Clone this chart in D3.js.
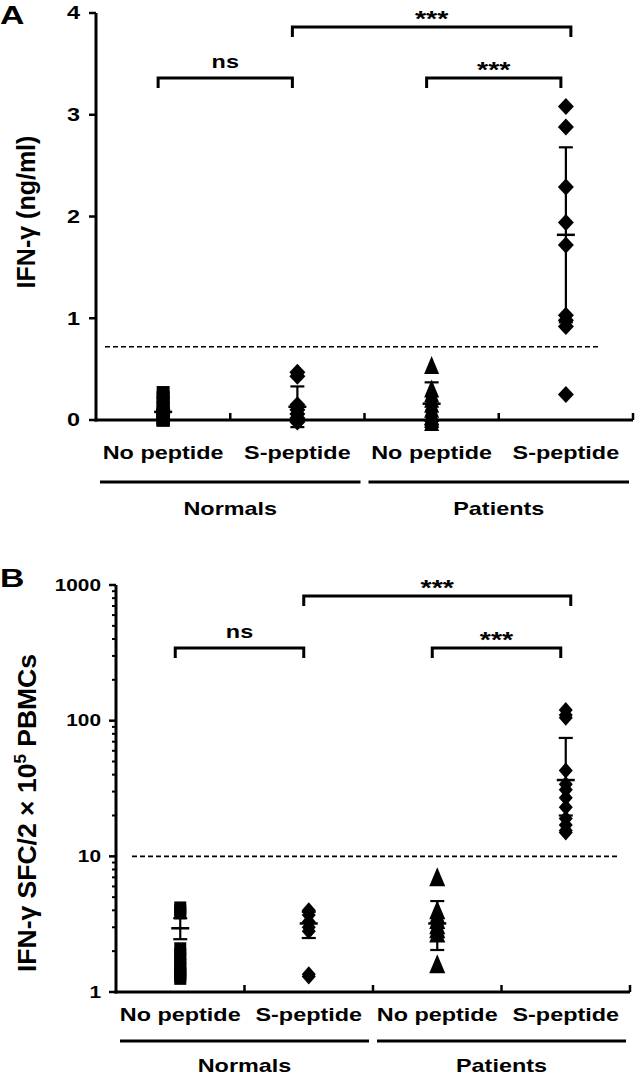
<!DOCTYPE html>
<html><head><meta charset="utf-8">
<script src="https://cdn.jsdelivr.net/npm/d3@7"></script>
<style>body{margin:0;background:#fff} svg{display:block}</style>
</head><body><svg id="chart" width="635" height="1078"></svg>
<script>
// ---------- data ----------
const categories = ["No peptide", "S-peptide", "No peptide", "S-peptide"];
const groupNames = ["Normals", "Patients"];
const markerShapes = ["square", "diamond", "triangle", "diamond"];

// Panel A : IFN-γ (ng/ml)
const ifnNormalsNoPeptide = [0.27, 0.22, 0.17, 0.12, 0.08, 0.05, 0.02, 0.0, 0.0, 0.0];
const ifnNormalsSPeptide = [0.47, 0.43, 0.15, 0.10, 0.06, 0.02, 0.0, -0.02];
const ifnPatientsNoPeptide = [0.53, 0.30, 0.25, 0.20, 0.15, 0.10, 0.06, 0.03, 0.0, -0.03];
const ifnPatientsSPeptide = [3.08, 2.88, 2.29, 1.94, 1.72, 1.03, 0.98, 0.92, 0.25];
const ifnMean = [0.08, 0.13, 0.16, 1.82];
const ifnErrLow = [0.06, -0.07, -0.05, 0.96];
const ifnErrHigh = [0.10, 0.33, 0.37, 2.68];
const ifnTicks = [0, 1, 2, 3, 4];
const ifnCutoff = 0.72;
const ifnComparisons = [
  {a: 0, b: 1, text: "ns", level: 1},
  {a: 1, b: 3, text: "***", level: 2},
  {a: 2, b: 3, text: "***", level: 1}
];

// Panel B : IFN-γ SFC / 2×10^5 PBMCs
const sfcNormalsNoPeptide = [4.2, 4.0, 3.8, 2.1, 1.9, 1.75, 1.6, 1.5, 1.4, 1.35, 1.3, 1.25];
const sfcNormalsSPeptide = [4.0, 3.7, 3.3, 3.0, 2.8, 1.35, 1.3];
const sfcPatientsNoPeptide = [7.0, 4.0, 3.7, 3.4, 3.1, 2.9, 2.7, 1.6];
const sfcPatientsSPeptide = [120, 110, 105, 43, 34, 31, 27, 23, 19, 17, 15.5, 15];
const sfcMean = [2.95, 3.2, 3.2, 36.5];
const sfcErrLow = [2.45, 2.5, 2.04, 20];
const sfcErrHigh = [3.5, 3.9, 4.68, 74.6];
const sfcTicks = [1, 10, 100, 1000];
const sfcCutoff = 10;
const sfcComparisons = [
  {a: 0, b: 1, text: "ns", level: 1},
  {a: 1, b: 3, text: "***", level: 2},
  {a: 2, b: 3, text: "***", level: 1}
];

// ---------- drawing ----------
const FONT = "'Liberation Sans', Arial, Helvetica, sans-serif";
const SX = 1.3;
const svg = d3.select("#chart");

function label(g, x, yc, str, fs, anchor, k) {
  return g.append("text")
    .attr("transform", `translate(${x},${yc + k * fs}) scale(${SX},1)`)
    .attr("text-anchor", anchor)
    .attr("font-family", FONT).attr("font-weight", "bold")
    .attr("font-size", fs).attr("fill", "#000").text(str);
}

function markerPath(shape, m) {
  if (shape === "square") return `M${-m.sq},${-m.sq}h${2*m.sq}v${2*m.sq}h${-2*m.sq}z`;
  if (shape === "diamond") return `M0,${-m.dh}L${m.dw},0L0,${m.dh}L${-m.dw},0Z`;
  return `M0,${-m.th}L${m.tw},${m.tb}L${-m.tw},${m.tb}Z`;
}

function drawPanel(cfg) {
  const g = svg.append("g");
  const x = d3.scaleBand().domain(d3.range(categories.length)).range([cfg.x0, cfg.x1]);
  const cx = i => x(i) + x.bandwidth() / 2;
  const y = cfg.y;
  const yb = cfg.axisY;

  // cutoff dashed line
  g.append("line")
    .attr("x1", cfg.cut0).attr("x2", cfg.cut1)
    .attr("y1", y(cfg.cutoff)).attr("y2", y(cfg.cutoff))
    .attr("stroke", "#000").attr("stroke-width", 1.6).attr("stroke-dasharray", "5,3");

  // y axis
  g.append("line").attr("x1", cfg.x0).attr("x2", cfg.x0)
    .attr("y1", y(cfg.yTop)).attr("y2", yb + 1.5)
    .attr("stroke", "#000").attr("stroke-width", 3);
  const allTicks = cfg.log ? y.ticks() : cfg.ticks;
  g.selectAll(".yt").data(allTicks).join("line")
    .attr("x1", d => cfg.x0 - (cfg.ticks.includes(d) ? 7 : 4)).attr("x2", cfg.x0)
    .attr("y1", d => y(d)).attr("y2", d => y(d))
    .attr("stroke", "#000").attr("stroke-width", d => cfg.ticks.includes(d) ? 2.5 : 2);
  cfg.ticks.forEach(t => label(g, cfg.labelX, y(t), String(t), cfg.tickFs, "end", 0.36));

  // x axis
  g.append("line").attr("x1", cfg.x0 - 1.5).attr("x2", cfg.x1)
    .attr("y1", yb).attr("y2", yb).attr("stroke", "#000").attr("stroke-width", 3);
  g.selectAll(".xt").data(d3.range(1, categories.length + 1)).join("line")
    .attr("x1", i => x(i - 1) + x.bandwidth()).attr("x2", i => x(i - 1) + x.bandwidth())
    .attr("y1", yb).attr("y2", yb - 7)
    .attr("stroke", "#000").attr("stroke-width", 2.5);

  // points
  cfg.values.forEach((vals, i) => {
    g.selectAll(null).data(vals).join("path")
      .attr("d", markerPath(markerShapes[i], cfg.marker))
      .attr("transform", d => `translate(${cx(i)},${y(d)})`)
      .attr("fill", "#000");
  });

  // mean and error bars
  cfg.mean.forEach((m, i) => {
    const c = cx(i);
    g.append("line").attr("x1", c).attr("x2", c)
      .attr("y1", y(cfg.lo[i])).attr("y2", y(cfg.hi[i]))
      .attr("stroke", "#000").attr("stroke-width", 2.2);
    [cfg.lo[i], cfg.hi[i]].forEach(v => g.append("line")
      .attr("x1", c - 7).attr("x2", c + 7).attr("y1", y(v)).attr("y2", y(v))
      .attr("stroke", "#000").attr("stroke-width", 2.2));
    g.append("line").attr("x1", c - 9).attr("x2", c + 9).attr("y1", y(m)).attr("y2", y(m))
      .attr("stroke", "#000").attr("stroke-width", 2.5);
  });

  // significance brackets
  cfg.comps.forEach(cp => {
    const by = cfg.bracketY[cp.level];
    const xa = cx(cp.a) - 5;
    const xb = cx(cp.b) + (cp.level === 2 ? 5 : -5);
    g.append("path")
      .attr("d", `M${xa},${by + 10}V${by}H${xb}V${by + 10}`)
      .attr("fill", "none").attr("stroke", "#000").attr("stroke-width", 3);
    if (cp.text === "ns") label(g, (xa + xb) / 2, by - 15, cp.text, 18, "middle", 0.27);
    else label(g, (xa + xb) / 2, by - 14, cp.text, 22, "middle", 0.58);
  });

  // category labels
  categories.forEach((c, i) => label(g, cx(i), cfg.catY, c, 18, "middle", 0.36));

  // group lines & labels
  groupNames.forEach((gn, j) => {
    const a = x(2 * j) + 4, b = x(2 * j + 1) + x.bandwidth() - 4;
    g.append("line").attr("x1", a).attr("x2", b)
      .attr("y1", cfg.groupLineY).attr("y2", cfg.groupLineY)
      .attr("stroke", "#000").attr("stroke-width", 3);
    label(g, (a + b) / 2, cfg.groupY, gn, 18, "middle", 0.36);
  });

  // panel letter
  label(g, 0, cfg.letterY, cfg.letter, 26, "start", 0.36);
  return g;
}

// Panel A
const gA = drawPanel({
  letter: "A", letterY: 15,
  x0: 96, x1: 633, axisY: 420,
  y: d3.scaleLinear().domain([0, 4]).range([420, 13]), yTop: 4, log: false,
  ticks: ifnTicks, tickFs: 18, labelX: 80,
  values: [ifnNormalsNoPeptide, ifnNormalsSPeptide, ifnPatientsNoPeptide, ifnPatientsSPeptide],
  mean: ifnMean, lo: ifnErrLow, hi: ifnErrHigh,
  cutoff: ifnCutoff, cut0: 105, cut1: 600,
  comps: ifnComparisons, bracketY: {1: 78, 2: 27},
  catY: 453, groupLineY: 482, groupY: 509,
  marker: {sq: 6.5, dw: 8, dh: 8.5, tw: 7.5, th: 10, tb: 8}
});
gA.append("text")
  .attr("transform", "translate(35,212) rotate(-90)")
  .attr("text-anchor", "middle")
  .attr("font-family", FONT).attr("font-weight", "bold").attr("font-size", 25)
  .text("IFN-γ (ng/ml)");

// Panel B
const gB = drawPanel({
  letter: "B", letterY: 578,
  x0: 116, x1: 630, axisY: 992,
  y: d3.scaleLog().domain([1, 1000]).range([992, 585]), yTop: 1000, log: true,
  ticks: sfcTicks, tickFs: 16, labelX: 101,
  values: [sfcNormalsNoPeptide, sfcNormalsSPeptide, sfcPatientsNoPeptide, sfcPatientsSPeptide],
  mean: sfcMean, lo: sfcErrLow, hi: sfcErrHigh,
  cutoff: sfcCutoff, cut0: 132, cut1: 618,
  comps: sfcComparisons, bracketY: {1: 648, 2: 596},
  catY: 1015, groupLineY: 1041, groupY: 1066,
  marker: {sq: 6, dw: 7, dh: 8, tw: 8, th: 10, tb: 9}
});
const tB = gB.append("text")
  .attr("transform", "translate(36,813) rotate(-90)")
  .attr("text-anchor", "middle")
  .attr("font-family", FONT).attr("font-weight", "bold").attr("font-size", 26.5);
tB.append("tspan").text("IFN-γ SFC/2 × 10");
tB.append("tspan").attr("dy", -10).attr("font-size", 17).text("5");
tB.append("tspan").attr("dy", 10).text(" PBMCs");
</script></body></html>
